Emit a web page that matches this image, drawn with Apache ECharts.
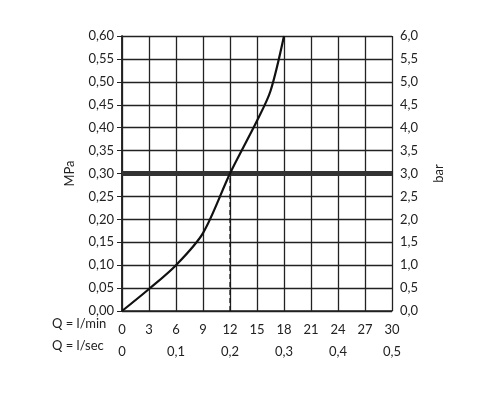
<!DOCTYPE html><html><head><meta charset="utf-8"><script src="https://cdn.jsdelivr.net/npm/echarts@6/dist/echarts.min.js"></script></head><body style="margin:0"><div id="c" style="width:500px;height:400px"></div><script>
const flowLmin=[0,3,6,9,12,15,16.5,18];
const pressureMPa=[0,0.048,0.10,0.17,0.30,0.415,0.48,0.60];
const workLevel=0.30;
const workFlow=12;
const fmt=(d)=>v=>v.toFixed(d).replace('.',',');
const F='Lato';
const chart=echarts.init(document.getElementById('c'));
const lbl={color:'#222',fontFamily:F,fontSize:13};
chart.setOption({animation:false,
grid:{left:122,right:108,top:36,bottom:89},
xAxis:[{type:'value',min:0,max:30,interval:3,position:'bottom',axisLine:{lineStyle:{color:'#222',width:1.5}},axisTick:{show:false},splitLine:{lineStyle:{color:'#222',width:1.3}},axisLabel:Object.assign({margin:12},lbl)},
{type:'value',min:0,max:0.5,interval:0.1,position:'bottom',offset:22,axisLine:{show:false},axisTick:{show:false},splitLine:{show:false},axisLabel:Object.assign({margin:12,formatter:v=>v===0?'0':fmt(1)(v)},lbl)}],
yAxis:[{type:'value',min:0,max:0.6,interval:0.05,name:'MPa',nameLocation:'middle',nameGap:46,nameRotate:90,nameTextStyle:lbl,axisLine:{show:true,lineStyle:{color:'#222',width:1.5}},axisTick:{show:true,length:5,lineStyle:{color:'#222'}},splitLine:{lineStyle:{color:'#222',width:1.3}},axisLabel:Object.assign({formatter:fmt(2),margin:8},lbl)},
{type:'value',min:0,max:6,interval:0.5,position:'right',name:'bar',nameLocation:'middle',nameGap:40,nameRotate:90,nameTextStyle:lbl,axisLine:{show:true,lineStyle:{color:'#222',width:1.5}},axisTick:{show:true,length:5,lineStyle:{color:'#222'}},splitLine:{show:false},axisLabel:Object.assign({formatter:fmt(1),margin:8},lbl)}],
graphic:[{type:'text',left:52,top:317,style:{text:'Q = l/min',fill:'#222',font:'13px Lato'}},{type:'text',left:52,top:339,style:{text:'Q = l/sec',fill:'#222',font:'13px Lato'}}],
series:[{type:'line',smooth:0.3,symbol:'none',data:flowLmin.map((x,i)=>[x,pressureMPa[i]]),lineStyle:{color:'#111',width:2.2},z:5},
{type:'line',symbol:'none',data:[[0,workLevel],[30,workLevel]],lineStyle:{color:'#333',width:5},z:4},
{type:'line',symbol:'none',data:[[workFlow,0],[workFlow,workLevel]],lineStyle:{color:'#111',width:1.2,type:[5,3]},z:6}]
});
</script></body></html>
